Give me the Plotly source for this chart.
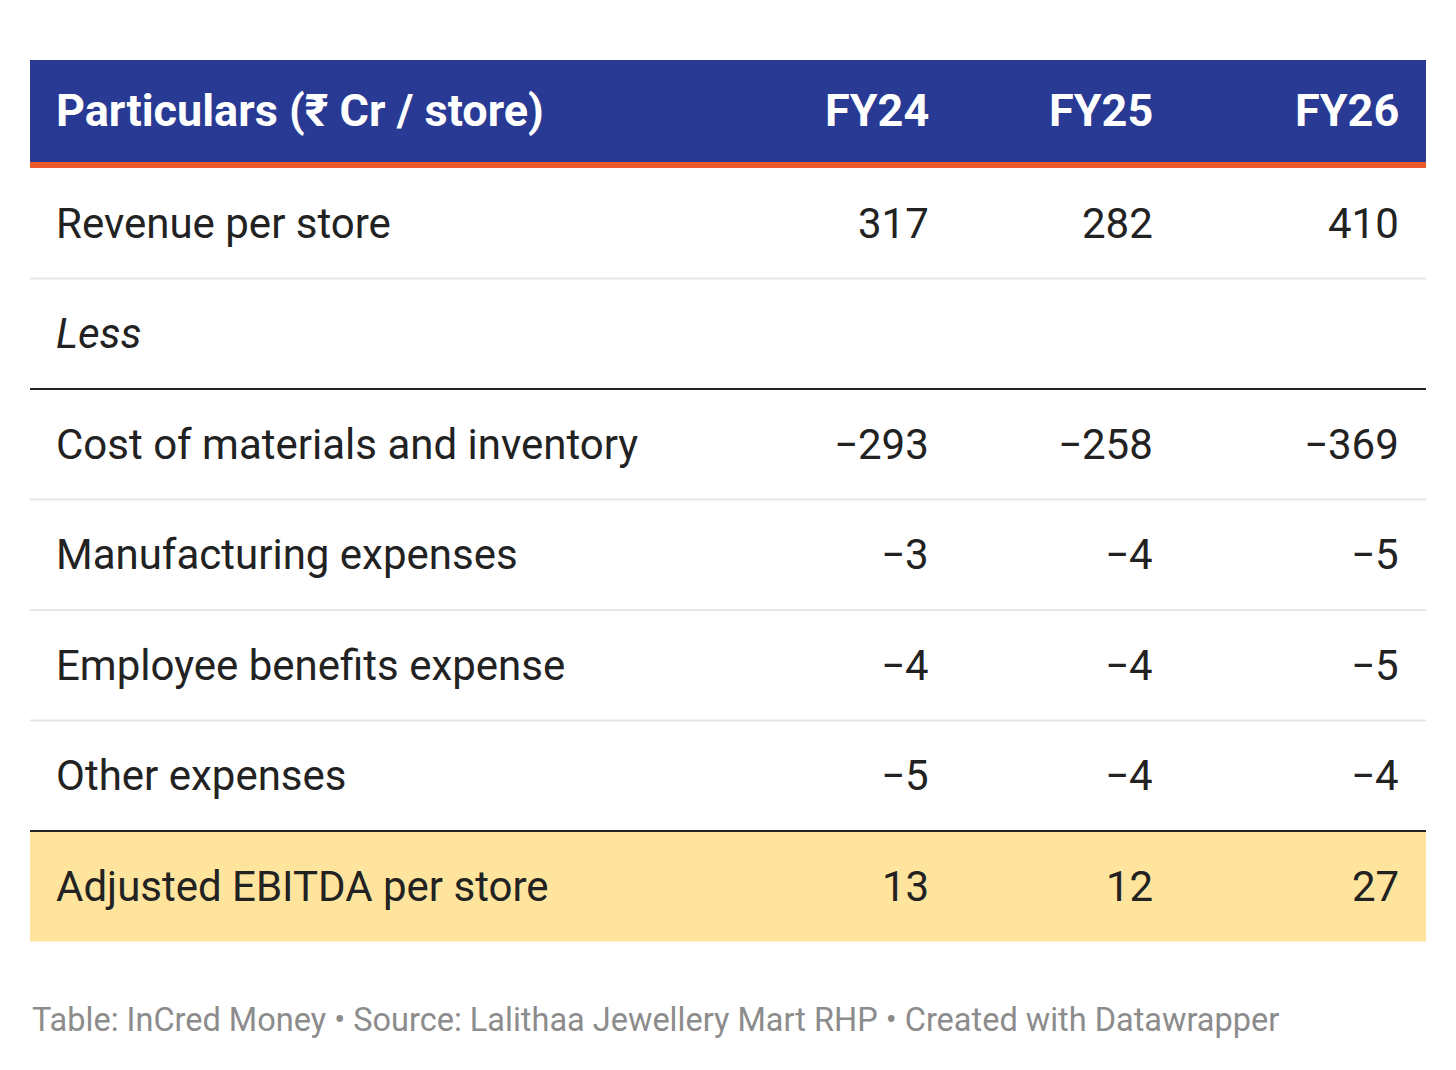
import plotly.graph_objects as go

header = ["Particulars (₹ Cr / store)", "FY24", "FY25", "FY26"]
labels = ["Revenue per store", "Less", "Cost of materials and inventory",
          "Manufacturing expenses", "Employee benefits expense",
          "Other expenses", "Adjusted EBITDA per store"]
fy24 = ["317", "", "−293", "−3", "−4", "−5", "13"]
fy25 = ["282", "", "−258", "−4", "−4", "−4", "12"]
fy26 = ["410", "", "−369", "−5", "−5", "−4", "27"]
footer = "Table: InCred Money • Source: Lalithaa Jewellery Mart RHP • Created with Datawrapper"

W, H = 1456, 1070
off = 8  # page margin offset
left, right = 30 - off, 1426 - off
col_x = [54 - off, 931 - off, 1155 - off, 1401 - off]
top0, row_h = 168 - off, 110.5

fig = go.Figure()
shapes = []
# header band + orange rule
shapes.append(dict(type="rect", x0=left, x1=right, y0=60 - off, y1=162 - off, fillcolor="#283a93", line_width=0))
shapes.append(dict(type="rect", x0=left, x1=right, y0=162 - off, y1=168 - off, fillcolor="#ea5a2b", line_width=0))
# highlight last row
last = len(labels) - 1
shapes.append(dict(type="rect", x0=left, x1=right, y0=top0 + last * row_h, y1=top0 + (last + 1) * row_h,
                   fillcolor="#fee49c", line_width=0, layer="below"))
# separators
for i in range(1, len(labels)):
    y = top0 + i * row_h
    dark = i in (2, last)
    shapes.append(dict(type="line", x0=left, x1=right, y0=y, y1=y,
                       line=dict(color="#222222" if dark else "#e6e6e6", width=2)))

ann = []
for j, h in enumerate(header):
    ann.append(dict(x=col_x[j], y=110 - off, text="<b>%s</b>" % h, xanchor="left" if j == 0 else "right",
                    font=dict(size=45, color="white")))
for i, lab in enumerate(labels):
    yc = top0 + (i + 0.5) * row_h
    txt = "<i>%s</i>" % lab if lab == "Less" else lab
    ann.append(dict(x=col_x[0], y=yc, text=txt, xanchor="left", font=dict(size=42, color="#222222")))
    for j, col in enumerate([fy24, fy25, fy26]):
        if col[i]:
            ann.append(dict(x=col_x[j + 1], y=yc, text=col[i], xanchor="right",
                            font=dict(size=42, color="#222222")))
ann.append(dict(x=left, y=1020 - off, text=footer, xanchor="left", font=dict(size=32.5, color="#8c8c8c")))
for a in ann:
    a.update(xref="x", yref="y", showarrow=False, yanchor="middle")

fig.add_trace(go.Scatter(x=[0, W], y=[0, H], mode="markers", marker=dict(opacity=0), hoverinfo="skip"))
fig.update_layout(width=W, height=H, margin=dict(l=0, r=0, t=0, b=0), plot_bgcolor="white",
                  paper_bgcolor="white", showlegend=False, shapes=shapes, annotations=ann,
                  font=dict(family="Roboto"),
                  xaxis=dict(range=[0, W], visible=False, fixedrange=True),
                  yaxis=dict(range=[H, 0], visible=False, fixedrange=True))
fig.write_html("out.html")
